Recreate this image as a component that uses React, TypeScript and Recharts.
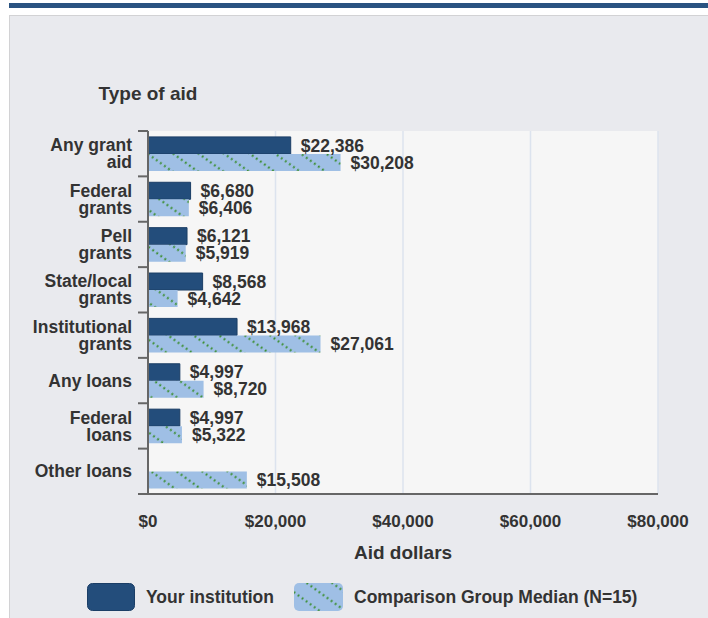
import { BarChart, Bar, XAxis, YAxis, CartesianGrid, LabelList, Label } from 'recharts';

const categories = [
  'Any grant aid',
  'Federal grants',
  'Pell grants',
  'State/local grants',
  'Institutional grants',
  'Any loans',
  'Federal loans',
  'Other loans',
];
// how the category names wrap on the axis
const categoryLines = [
  ['Any grant', 'aid'],
  ['Federal', 'grants'],
  ['Pell', 'grants'],
  ['State/local', 'grants'],
  ['Institutional', 'grants'],
  ['Any loans'],
  ['Federal', 'loans'],
  ['Other loans'],
];
const yourInstitution = [22386, 6680, 6121, 8568, 13968, 4997, 4997, null];
const comparisonMedian = [30208, 6406, 5919, 4642, 27061, 8720, 5322, 15508];
const xTicks = [0, 20000, 40000, 60000, 80000];

const data = categories.map((name, i) => ({
  name,
  lines: categoryLines[i],
  yours: yourInstitution[i],
  median: comparisonMedian[i],
}));

const DARK = '#234d7b';
const LIGHT = '#9fbfe5';
const DOTS = '#3d8f35';
const TEXT = '#333333';
const FONT = '"Liberation Sans", Arial, sans-serif';

const CHART_W = 708;
const CHART_H = 618;
const MARGIN = { top: 131, right: 50, bottom: 94, left: 8 };
const X_AXIS_H = 30;
const Y_AXIS_W = 140;
const PLOT_H = CHART_H - MARGIN.top - MARGIN.bottom - X_AXIS_H;
const BAND = PLOT_H / categories.length;

const money = (v: number | null) => (v == null ? '' : '$' + v.toLocaleString('en-US'));

function CategoryTick(props: any) {
  const { x, y, payload, index } = props;
  const lines: string[] = data[index]?.lines ?? [payload.value];
  const axisX = x + 16;
  const lineH = 17;
  const first = y - ((lines.length - 1) * lineH) / 2;
  return (
    <g>
      <line x1={axisX - 10} x2={axisX} y1={y - BAND / 2} y2={y - BAND / 2} stroke="#666" strokeWidth={2} />
      {index === categories.length - 1 && (
        <line x1={axisX - 10} x2={axisX} y1={y + BAND / 2} y2={y + BAND / 2} stroke="#666" strokeWidth={2} />
      )}
      <text textAnchor="end" fontFamily={FONT} fontSize={17.5} fontWeight="bold" fill={TEXT}>
        {lines.map((l, i) => (
          <tspan key={i} x={x} y={first + i * lineH} dy="0.35em">
            {l}
          </tspan>
        ))}
      </text>
    </g>
  );
}

function Stripes({ id }: { id: string }) {
  return (
    <pattern id={id} width="15" height="15" patternUnits="userSpaceOnUse" patternTransform="rotate(36)">
      <rect width="15" height="15" fill={LIGHT} />
      <line x1="0" y1="7.5" x2="15" y2="7.5" stroke={DOTS} strokeWidth={2} strokeDasharray="2 3" />
    </pattern>
  );
}

function ChartLegend() {
  const item = { display: 'flex', alignItems: 'center' } as const;
  const label = { fontFamily: FONT, fontSize: 17.5, fontWeight: 'bold', color: TEXT } as const;
  return (
    <div style={{ position: 'absolute', left: 87, top: 583, display: 'flex', alignItems: 'center', height: 28 }}>
      <div style={item}>
        <svg width={48} height={28} style={{ display: 'block' }}>
          <rect x={0.5} y={0.5} width={47} height={27} rx={5} fill={DARK} stroke="#1b3e66" />
        </svg>
        <span style={{ ...label, marginLeft: 11 }}>Your institution</span>
      </div>
      <div style={{ ...item, marginLeft: 20 }}>
        <svg width={49} height={28} style={{ display: 'block' }}>
          <defs>
            <Stripes id="legendStripes" />
          </defs>
          <rect x={0} y={0} width={49} height={28} rx={5} fill="url(#legendStripes)" />
        </svg>
        <span style={{ ...label, marginLeft: 11 }}>Comparison Group Median (N=15)</span>
      </div>
    </div>
  );
}

export default function App() {
  return (
    <div style={{ position: 'absolute', left: 0, top: 0, width: CHART_W, height: CHART_H, background: '#fff', fontFamily: FONT }}>
      <div style={{ position: 'absolute', left: 9, top: 3, width: 699, height: 5, background: '#2a5381' }} />
      <div
        style={{
          position: 'absolute',
          left: 9,
          top: 15,
          width: 699,
          height: 603,
          background: '#e9eaee',
          borderTop: '1px solid #d2d2d4',
          borderLeft: '1px solid #d2d2d4',
          boxSizing: 'border-box',
        }}
      />
      <div style={{ position: 'absolute', left: 0, top: 0 }}>
        <BarChart
          width={CHART_W}
          height={CHART_H}
          data={data}
          layout="vertical"
          margin={MARGIN}
          barCategoryGap="13%"
          barGap={0}
        >
          <defs>
            <Stripes id="medianStripes" />
          </defs>
          <CartesianGrid horizontal={false} stroke="#dce3ee" strokeWidth={1.5} fill="#f6f6f6" />
          <XAxis
            type="number"
            domain={[0, 80000]}
            ticks={xTicks}
            height={X_AXIS_H}
            tickFormatter={(v: number) => money(v)}
            axisLine={{ stroke: '#666', strokeWidth: 2 }}
            tickLine={false}
            tickMargin={15}
            tick={{ fill: TEXT, fontSize: 17, fontWeight: 'bold', fontFamily: FONT }}
          >
            <Label
              content={({ viewBox }: any) => (
                <text
                  x={viewBox.x + viewBox.width / 2}
                  y={viewBox.y + 65}
                  textAnchor="middle"
                  fontFamily={FONT}
                  fontSize={19}
                  fontWeight="bold"
                  fill={TEXT}
                >
                  Aid dollars
                </text>
              )}
            />
          </XAxis>
          <YAxis
            type="category"
            dataKey="name"
            width={Y_AXIS_W}
            axisLine={{ stroke: '#666', strokeWidth: 2 }}
            tickLine={false}
            tickMargin={10}
            interval={0}
            tick={<CategoryTick />}
          >
            <Label
              content={({ viewBox }: any) => (
                <text
                  x={viewBox.x + viewBox.width}
                  y={viewBox.y - 31}
                  textAnchor="middle"
                  fontFamily={FONT}
                  fontSize={19}
                  fontWeight="bold"
                  fill={TEXT}
                >
                  Type of aid
                </text>
              )}
            />
          </YAxis>
          <Bar dataKey="yours" name="Your institution" fill={DARK} stroke="#1b3e66" strokeWidth={1} isAnimationActive={false}>
            <LabelList
              dataKey="yours"
              position="right"
              offset={10}
              formatter={(v: any) => money(v)}
              style={{ fill: TEXT, fontSize: 17.5, fontWeight: 'bold', fontFamily: FONT }}
            />
          </Bar>
          <Bar dataKey="median" name="Comparison Group Median (N=15)" fill="url(#medianStripes)" isAnimationActive={false}>
            <LabelList
              dataKey="median"
              position="right"
              offset={10}
              formatter={(v: any) => money(v)}
              style={{ fill: TEXT, fontSize: 17.5, fontWeight: 'bold', fontFamily: FONT }}
            />
          </Bar>
        </BarChart>
      </div>
      <ChartLegend />
    </div>
  );
}
